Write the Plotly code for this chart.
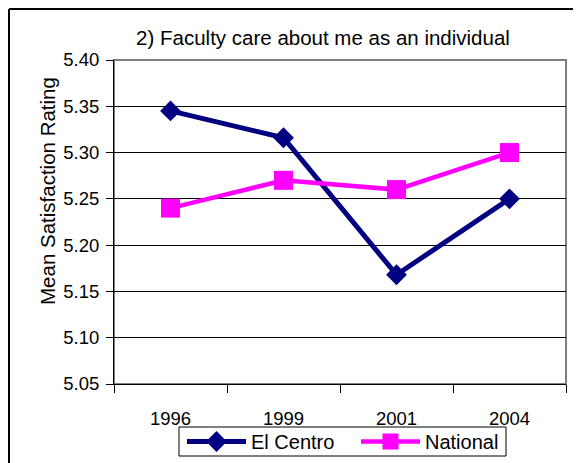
import plotly.graph_objects as go

years = ["1996", "1999", "2001", "2004"]
el_centro = [5.345, 5.316, 5.168, 5.25]
national = [5.24, 5.27, 5.26, 5.30]
y_ticks = [5.05, 5.10, 5.15, 5.20, 5.25, 5.30, 5.35, 5.40]
y_title = "Mean Satisfaction Rating"

FONT = "Liberation Sans, Arial, sans-serif"

fig = go.Figure()
fig.add_trace(go.Scatter(
    x=years, y=el_centro, name="El Centro", mode="lines+markers",
    line=dict(color="#000080", width=5),
    marker=dict(symbol="diamond", size=16, color="#000080"),
))
fig.add_trace(go.Scatter(
    x=years, y=national, name="National", mode="lines+markers",
    line=dict(color="#FF00FF", width=4.5),
    marker=dict(symbol="square", size=19, color="#FF00FF"),
))

# page has an 8px body margin; figure coordinates = page pixels - 8
OFF = 8
W, H = 581 - OFF, 463 - OFF
L, R, T, B = 114 - OFF, W - (566 - OFF), 60 - OFF, H - (384 - OFF)
pw, ph = W - L - R, H - T - B

def fx(px):
    return (px - OFF - L) / pw

def fy(py):
    return (H - B - (py - OFF)) / ph

fig.update_layout(
    width=W, height=H,
    margin=dict(l=L, r=R, t=T, b=B, pad=0, autoexpand=False),
    paper_bgcolor="white", plot_bgcolor="white",
    font=dict(family=FONT, size=18, color="black"),
    title=dict(text="2) Faculty care about me as an individual",
               x=fx(323), xref="paper", xanchor="center",
               y=1 - (38 - OFF) / H, yref="container", yanchor="middle",
               font=dict(family=FONT, size=20.5, color="black")),
    showlegend=True,
    legend=dict(orientation="h", x=fx(182), xanchor="left",
                y=fy(441.5), yanchor="middle",
                borderwidth=0, bgcolor="rgba(0,0,0,0)",
                font=dict(family=FONT, size=20, color="black"),
                itemwidth=59, entrywidth=100, entrywidthmode="pixels",
                tracegroupgap=0),
    xaxis=dict(type="category", categoryorder="array", categoryarray=years,
               range=[-0.5, 3.5],
               showgrid=False, showline=True, linecolor="black", linewidth=1,
               ticks="outside", tickson="boundaries", ticklen=8, tickcolor="black",
               tickfont=dict(family=FONT, size=18.5, color="black"),
               ticklabelstandoff=18, zeroline=False),
    yaxis=dict(range=[5.05, 5.40], tickvals=y_ticks,
               ticktext=[f"{v:.2f}" for v in y_ticks],
               showgrid=True, gridcolor="black", gridwidth=1,
               showline=True, linecolor="black", linewidth=1,
               ticks="outside", ticklen=7, tickcolor="black",
               tickfont=dict(family=FONT, size=18.5, color="black"),
               ticklabelstandoff=3,
               zeroline=False),
    annotations=[
        dict(text=y_title, textangle=-90, xref="paper", yref="paper",
             x=fx(47), y=fy(191), xanchor="center", yanchor="middle",
             showarrow=False, font=dict(family=FONT, size=20.5, color="black")),
    ],
    shapes=[
        dict(type="rect", xref="paper", yref="paper", x0=0, x1=1, y0=0, y1=1,
             line=dict(color="#808080", width=2), layer="below"),
        dict(type="line", xref="paper", yref="paper",
             x0=fx(9), x1=fx(600), y0=fy(9), y1=fy(9),
             line=dict(color="black", width=2)),
        dict(type="line", xref="paper", yref="paper",
             x0=fx(9), x1=fx(9), y0=fy(9), y1=fy(480),
             line=dict(color="black", width=2)),
        # legend frame
        dict(type="rect", xref="paper", yref="paper",
             x0=fx(179), x1=fx(506), y0=fy(456), y1=fy(427),
             line=dict(color="black", width=1), fillcolor="white", layer="above"),
    ],
)

fig.write_html("out.html")
